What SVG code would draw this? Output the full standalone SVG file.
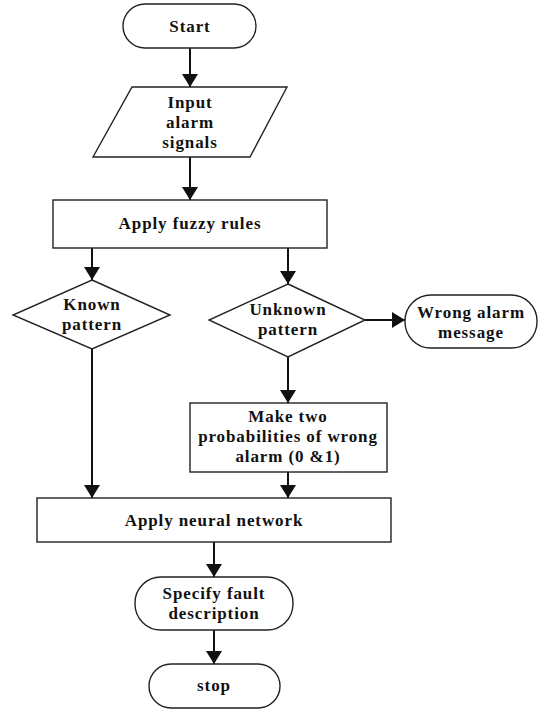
<svg xmlns="http://www.w3.org/2000/svg" width="539" height="710" viewBox="0 0 539 710">
<style>
.s{fill:#fff;stroke:#222;stroke-width:1.4}
.t{font-family:"Liberation Serif","Times New Roman",serif;font-weight:bold;font-size:17px;letter-spacing:0.9px;text-anchor:middle;fill:#111}
.c{fill:none;stroke:#111;stroke-width:2}
</style>
<defs>
<marker id="ah" markerUnits="userSpaceOnUse" viewBox="0 0 13 16" refX="13" refY="8" markerWidth="13" markerHeight="16" orient="auto">
<path d="M0,0 L13,8 L0,16 z" fill="#111"/>
</marker>
</defs>
<rect width="539" height="710" fill="#fff"/>
<g id="connectors">
<path class="c" d="M190,48 V87" marker-end="url(#ah)"/>
<path class="c" d="M190,157 V200" marker-end="url(#ah)"/>
<path class="c" d="M92,248 V280" marker-end="url(#ah)"/>
<path class="c" d="M288,248 V284" marker-end="url(#ah)"/>
<path class="c" d="M365,320 H405" marker-end="url(#ah)"/>
<path class="c" d="M288,357 V403" marker-end="url(#ah)"/>
<path class="c" d="M92,349 V498" marker-end="url(#ah)"/>
<path class="c" d="M288,472 V498" marker-end="url(#ah)"/>
<path class="c" d="M214,542 V577" marker-end="url(#ah)"/>
<path class="c" d="M214,630 V664" marker-end="url(#ah)"/>
</g>
<g id="start">
<rect class="s" x="123" y="4" width="133" height="44" rx="22"/>
<text class="t" x="190" y="32">Start</text>
</g>
<g id="input">
<polygon class="s" points="132,87 287,87 250,157 93,157"/>
<text class="t" x="190" y="108">Input</text>
<text class="t" x="190" y="128">alarm</text>
<text class="t" x="190" y="148">signals</text>
</g>
<g id="fuzzy">
<rect class="s" x="53" y="200" width="274" height="48"/>
<text class="t" x="190" y="229">Apply fuzzy rules</text>
</g>
<g id="known">
<polygon class="s" points="92,280 170,315 92,349 13,315"/>
<text class="t" x="92" y="310">Known</text>
<text class="t" x="92" y="330">pattern</text>
</g>
<g id="unknown">
<polygon class="s" points="288,284 365,320 288,357 209,320"/>
<text class="t" x="288" y="315">Unknown</text>
<text class="t" x="288" y="335">pattern</text>
</g>
<g id="wrong">
<rect class="s" x="405" y="295" width="132" height="53" rx="26"/>
<text class="t" x="471" y="318">Wrong alarm</text>
<text class="t" x="471" y="338">message</text>
</g>
<g id="make">
<rect class="s" x="190" y="403" width="197" height="69"/>
<text class="t" x="288" y="422">Make two</text>
<text class="t" x="288" y="442">probabilities of wrong</text>
<text class="t" x="288" y="462">alarm (0 &amp;1)</text>
</g>
<g id="neural">
<rect class="s" x="37" y="498" width="354" height="44"/>
<text class="t" x="214" y="526">Apply neural network</text>
</g>
<g id="specify">
<rect class="s" x="135" y="577" width="158" height="53" rx="26"/>
<text class="t" x="214" y="599">Specify fault</text>
<text class="t" x="214" y="619">description</text>
</g>
<g id="stop">
<rect class="s" x="149" y="664" width="131" height="44" rx="22"/>
<text class="t" x="214" y="691">stop</text>
</g>
</svg>
